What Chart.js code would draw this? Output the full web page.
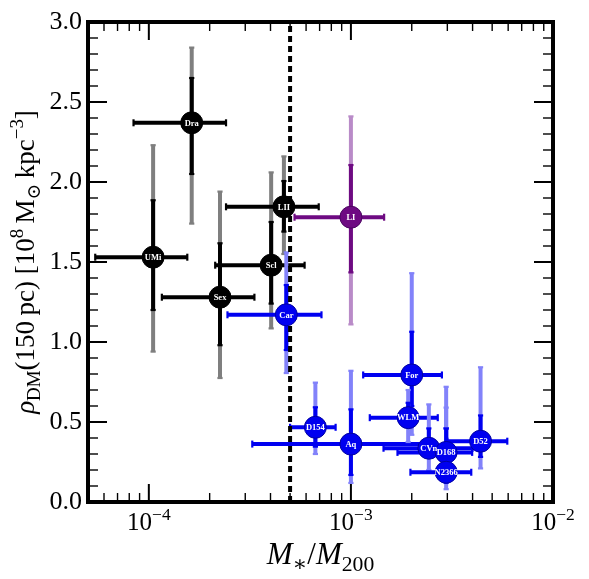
<!DOCTYPE html>
<html>
<head>
<meta charset="utf-8">
<script src="https://cdn.jsdelivr.net/npm/chart.js@4.4.1/dist/chart.umd.min.js"></script>
<style>
  html, body { margin: 0; padding: 0; background: #fff; }
  #wrap { width: 589px; height: 579px; }
</style>
</head>
<body>
<div id="wrap"><canvas id="c"></canvas></div>
<script>
// galaxies, in drawing order
const names = ['Dra', 'UMi', 'Sex', 'Scl', 'LII', 'LI', 'Car', 'D154', 'Aq', 'For', 'WLM', 'CVn', 'D168', 'N2366', 'D52'];
const group = ['k', 'k', 'k', 'k', 'k', 'p', 'b', 'b', 'b', 'b', 'b', 'b', 'b', 'b', 'b'];

// M*/M200 with its range
const mRatio = [1.63e-4, 1.05e-4, 2.25e-4, 4.03e-4, 4.66e-4, 1.0e-3, 4.79e-4, 6.67e-4, 1.0e-3, 2.0e-3, 1.92e-3, 2.43e-3, 2.96e-3, 2.96e-3, 4.38e-3];
const mLo = [8.4e-5, 5.43e-5, 1.16e-4, 2.13e-4, 2.41e-4, 5.26e-4, 2.45e-4, 5.0e-4, 3.25e-4, 1.15e-3, 1.24e-3, 1.45e-3, 1.7e-3, 1.97e-3, 3.0e-3];
const mHi = [2.41e-4, 1.55e-4, 3.33e-4, 5.9e-4, 6.93e-4, 1.46e-3, 7.15e-4, 8.4e-4, 2.6e-3, 2.82e-3, 2.69e-3, 4.0e-3, 3.98e-3, 3.94e-3, 5.94e-3];

// rho_DM(150 pc), 68% and 95% ranges
const rho = [2.37, 1.53, 1.28, 1.48, 1.845, 1.78, 1.17, 0.467, 0.362, 0.794, 0.527, 0.336, 0.31, 0.186, 0.38];
const rho68Lo = [2.05, 1.2, 0.98, 1.24, 1.69, 1.435, 0.95, 0.346, 0.169, 0.6, 0.48, 0.28, 0.24, 0.12, 0.282];
const rho68Hi = [2.65, 1.886, 1.617, 1.75, 2.006, 2.106, 1.356, 0.592, 0.579, 1.064, 0.62, 0.46, 0.46, 0.46, 0.541];
const rho95Lo = [1.74, 0.94, 0.775, 1.085, 1.55, 1.11, 0.806, 0.3, 0.119, 0.42, 0.375, 0.2, 0.19, 0.08, 0.21];
const rho95Hi = [2.84, 2.23, 1.94, 2.06, 2.16, 2.41, 1.56, 0.746, 0.82, 1.43, 0.7, 0.61, 0.59, 0.72, 0.842];

// vertical marker
const mCut = 5e-4;

// ticks
const xMajor = [1e-4, 1e-3, 1e-2];
const xExp = ['\u22124', '\u22123', '\u22122'];
const yMajor = [0, 0.5, 1.0, 1.5, 2.0, 2.5, 3.0];

const palette = {
  k: { dark: '#000000', light: '#7f7f7f' },
  p: { dark: '#6e0a82', light: '#b98bc8' },
  b: { dark: '#0000f0', light: '#8282fa' }
};

const SERIF = '"Liberation Serif", "DejaVu Serif", serif';

let order = 0;
const datasets = [];
function bar(pts, color, rot, cap) {
  datasets.push({
    data: pts,
    showLine: true,
    borderColor: color,
    borderWidth: 4,
    pointStyle: 'line',
    pointRadius: cap,
    pointBorderWidth: 2.2,
    pointBorderColor: color,
    pointRotation: rot,
    pointHoverRadius: cap,
    order: order--
  });
}

names.forEach((n, i) => {
  const c = palette[group[i]];
  bar([{x: mRatio[i], y: rho95Lo[i]}, {x: mRatio[i], y: rho95Hi[i]}], c.light, 0, 2.6);
  bar([{x: mRatio[i], y: rho68Lo[i]}, {x: mRatio[i], y: rho68Hi[i]}], c.dark, 0, 2.6);
  bar([{x: mLo[i], y: rho[i]}, {x: mHi[i], y: rho[i]}], c.dark, 90, 3.5);
});

datasets.push({
  data: [{x: mCut, y: 0}, {x: mCut, y: 3}],
  showLine: true,
  borderColor: '#000',
  borderWidth: 4,
  borderDash: [6, 4],
  pointRadius: 0,
  order: order--
});

datasets.push({
  data: names.map((n, i) => ({x: mRatio[i], y: rho[i]})),
  pointRadius: 11,
  pointHoverRadius: 11,
  pointBackgroundColor: group.map(g => palette[g].dark),
  pointBorderColor: group.map(g => g === 'k' ? '#000' : (g === 'p' ? '#4a0560' : '#0000a0')),
  pointBorderWidth: 1,
  order: order--,
  isMarkers: true
});

function runFont(r, B) {
  const size = r.s === 'n' ? B : B * 0.7;
  return (r.f === 'i' ? 'italic ' : '') + size + 'px ' + SERIF;
}
function drawRuns(ctx, runs, B, cx, baseY) {
  let w = 0;
  runs.forEach(r => { ctx.font = runFont(r, B); w += ctx.measureText(r.t).width; });
  let x = cx - w / 2;
  ctx.textAlign = 'left';
  ctx.textBaseline = 'alphabetic';
  runs.forEach(r => {
    ctx.font = runFont(r, B);
    const dy = r.s === 'sub' ? 0.22 * B : (r.s === 'sup' ? -0.42 * B : 0);
    ctx.fillText(r.t, x, baseY + dy);
    x += ctx.measureText(r.t).width;
  });
}

const xTitle = [
  {t: 'M', f: 'i', s: 'n'}, {t: '\u2217', f: 'r', s: 'sub'}, {t: '/', f: 'r', s: 'n'},
  {t: 'M', f: 'i', s: 'n'}, {t: '200', f: 'r', s: 'sub'}
];
const yTitle = [
  {t: '\u03c1', f: 'i', s: 'n'}, {t: 'DM', f: 'r', s: 'sub'},
  {t: '(150\u2009pc) [10', f: 'r', s: 'n'}, {t: '8', f: 'r', s: 'sup'},
  {t: '\u2009M', f: 'r', s: 'n'}, {t: '\u2299', f: 'r', s: 'sub'},
  {t: '\u2009kpc', f: 'r', s: 'n'}, {t: '\u22123', f: 'r', s: 'sup'}, {t: ']', f: 'r', s: 'n'}
];

const markerLabels = {
  id: 'markerLabels',
  afterDatasetsDraw(chart) {
    const ctx = chart.ctx;
    const idx = chart.data.datasets.findIndex(d => d.isMarkers);
    const meta = chart.getDatasetMeta(idx);
    ctx.save();
    ctx.fillStyle = '#fff';
    ctx.font = 'bold 8.5px ' + SERIF;
    ctx.textAlign = 'center';
    ctx.textBaseline = 'middle';
    meta.data.forEach((p, i) => ctx.fillText(names[i], p.x, p.y + 0.5));
    ctx.restore();
  }
};

const frame = {
  id: 'frame',
  afterDraw(chart) {
    const ctx = chart.ctx;
    const a = chart.chartArea;
    const xs = chart.scales.x, ys = chart.scales.y;
    ctx.save();
    ctx.strokeStyle = '#000';
    ctx.fillStyle = '#000';
    function tick(x1, y1, x2, y2, w) {
      ctx.lineWidth = w;
      ctx.beginPath(); ctx.moveTo(x1, y1); ctx.lineTo(x2, y2); ctx.stroke();
    }
    // x ticks
    const xMinor = [];
    [1e-5, 1e-4, 1e-3].forEach(d => { for (let k = 2; k <= 9; k++) xMinor.push(k * d); });
    xMinor.forEach(v => {
      if (v <= xs.min || v >= xs.max) return;
      const px = xs.getPixelForValue(v);
      tick(px, a.bottom, px, a.bottom - 9, 1.4);
      tick(px, a.top, px, a.top + 9, 1.4);
    });
    xMajor.forEach(v => {
      const px = xs.getPixelForValue(v);
      tick(px, a.bottom, px, a.bottom - 18, 2);
      tick(px, a.top, px, a.top + 18, 2);
    });
    // y ticks
    for (let k = 1; k < 30; k++) {
      if (k % 5 === 0) continue;
      const py = ys.getPixelForValue(k / 10);
      tick(a.left, py, a.left + 10, py, 1.4);
      tick(a.right, py, a.right - 10, py, 1.4);
    }
    yMajor.forEach(v => {
      const py = ys.getPixelForValue(v);
      tick(a.left, py, a.left + 19, py, 2);
      tick(a.right, py, a.right - 19, py, 2);
    });
    // frame
    ctx.lineWidth = 4;
    ctx.strokeRect(a.left, a.top, a.right - a.left, a.bottom - a.top);

    // x tick labels 10^n
    xMajor.forEach((v, i) => {
      const px = xs.getPixelForValue(v);
      drawRuns(ctx, [{t: '10', f: 'r', s: 'n'}, {t: xExp[i], f: 'r', s: 'sup'}], 25, px, a.bottom + 28);
    });
    // axis titles
    drawRuns(ctx, xTitle, 31, (a.left + a.right) / 2, a.bottom + 62);
    ctx.translate(34, (a.top + a.bottom) / 2);
    ctx.rotate(-Math.PI / 2);
    drawRuns(ctx, yTitle, 27, 0, 0);
    ctx.restore();
  }
};

new Chart(document.getElementById('c'), {
  type: 'scatter',
  data: { datasets },
  options: {
    responsive: true,
    maintainAspectRatio: false,
    animation: false,
    events: [],
    layout: { padding: { top: 22, right: 36, left: 0, bottom: 0 } },
    plugins: { legend: { display: false }, tooltip: { enabled: false } },
    scales: {
      x: {
        type: 'logarithmic',
        min: 5e-5,
        max: 1e-2,
        grid: { display: false, drawTicks: false },
        border: { display: false },
        ticks: { display: false },
        afterFit: s => { s.height = 77; }
      },
      y: {
        type: 'linear',
        min: 0,
        max: 3,
        grid: { display: false, drawTicks: false },
        border: { display: false },
        ticks: {
          stepSize: 0.5,
          padding: 6,
          color: '#000',
          font: { family: SERIF, size: 26 },
          callback: v => v.toFixed(1)
        },
        afterFit: s => { s.width = 88; }
      }
    }
  },
  plugins: [markerLabels, frame]
});
</script>
</body>
</html>
